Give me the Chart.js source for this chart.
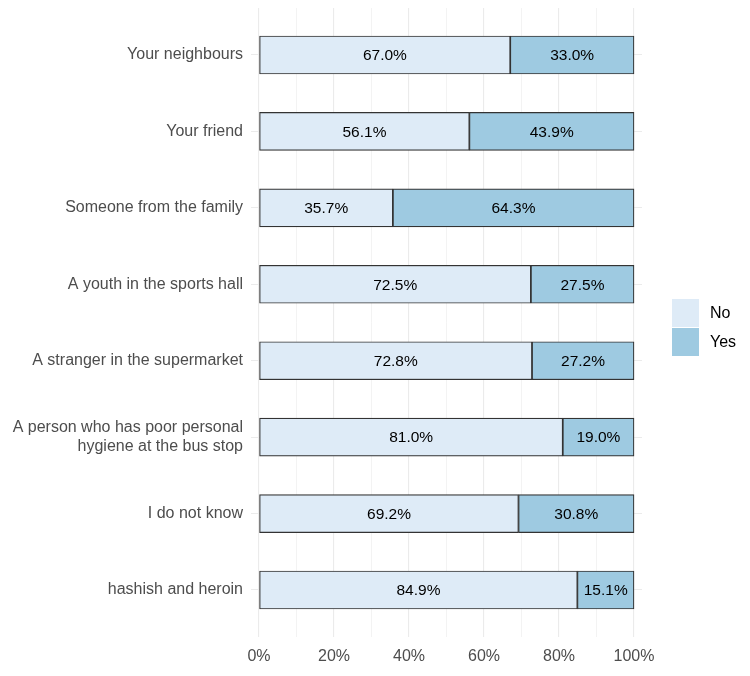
<!DOCTYPE html>
<html>
<head>
<meta charset="utf-8">
<script src="https://cdn.jsdelivr.net/npm/chart.js@4/dist/chart.umd.min.js"></script>
<style>
  body { margin: 0; background: #fff; }
  #wrap { position: relative; width: 750px; height: 676px; }
  #legend { position: absolute; left: 672px; top: 298px; font: 16px 'Liberation Sans', Arial, sans-serif; color: #000; }
  .key { display: flex; align-items: center; height: 29px; }
  .key span.sw { width: 27px; height: 28px; margin-right: 11px; }
</style>
</head>
<body>
<div id="wrap">
  <canvas id="c" width="750" height="676"></canvas>
  <div id="legend"></div>
</div>
<script>
const categories = [
  'Your neighbours',
  'Your friend',
  'Someone from the family',
  'A youth in the sports hall',
  'A stranger in the supermarket',
  ['A person who has poor personal', 'hygiene at the bus stop'],
  'I do not know',
  'hashish and heroin'
];
const noValues = [67.0, 56.1, 35.7, 72.5, 72.8, 81.0, 69.2, 84.9];
const yesValues = [33.0, 43.9, 64.3, 27.5, 27.2, 19.0, 30.8, 15.1];
const seriesNames = ['No', 'Yes'];
const seriesColors = ['#deebf7', '#9ecae1'];
const xTicks = [0, 10, 20, 30, 40, 50, 60, 70, 80, 90, 100];

const FONT = "'Liberation Sans', Arial, sans-serif";
const GRID = '#ebebeb';

// labels in the middle of each segment
const barLabels = {
  id: 'barLabels',
  afterDatasetsDraw(chart) {
    const ctx = chart.ctx;
    ctx.save();
    ctx.font = '15.5px ' + FONT;
    ctx.fillStyle = '#000';
    ctx.textAlign = 'center';
    ctx.textBaseline = 'middle';
    chart.data.datasets.forEach((ds, di) => {
      chart.getDatasetMeta(di).data.forEach((el, i) => {
        ctx.fillText(ds.data[i].x.toFixed(1) + '%', (el.x + el.base) / 2, el.y + 1);
      });
    });
    ctx.restore();
  }
};

new Chart(document.getElementById('c'), {
  type: 'bar',
  data: {
    datasets: [noValues, yesValues].map((vals, k) => ({
      label: seriesNames[k],
      data: vals.map((v, i) => ({ x: v, y: i })),
      backgroundColor: seriesColors[k],
      borderColor: '#333333',
      borderWidth: 1.2,
      borderSkipped: false,
      barThickness: 38
    }))
  },
  options: {
    indexAxis: 'y',
    responsive: false,
    animation: false,
    layout: { padding: { top: 8, right: 108, left: 0, bottom: 0 } },
    plugins: { legend: { display: false }, tooltip: { enabled: false } },
    scales: {
      x: {
        type: 'linear',
        stacked: true,
        offset: false,
        min: -2.13,
        max: 102.13,
        afterBuildTicks: s => { s.ticks = xTicks.map(v => ({ value: v })); },
        afterFit: s => { s.height = 39; s.paddingLeft = 0; s.paddingRight = 0; },
        border: { display: false },
        grid: {
          color: GRID,
          offset: false,
          drawTicks: false,
          lineWidth: c => (c.tick && c.tick.value % 20 === 0 ? 1.1 : 0.6)
        },
        ticks: {
          autoSkip: false,
          maxRotation: 0,
          padding: 10,
          color: '#4d4d4d',
          font: { family: FONT, size: 16 },
          callback: v => (v % 20 === 0 ? v + '%' : '')
        }
      },
      y: {
        type: 'linear',
        stacked: true,
        reverse: true,
        offset: false,
        min: -0.615,
        max: categories.length - 1 + 0.615,
        afterBuildTicks: s => { s.ticks = categories.map((_, i) => ({ value: i })); },
        afterFit: s => { s.width = 251; s.paddingTop = 0; s.paddingBottom = 0; },
        border: { display: false },
        grid: { color: GRID, offset: false, lineWidth: 1.1, drawTicks: false },
        ticks: {
          autoSkip: false,
          padding: 8,
          color: '#4d4d4d',
          font: { family: FONT, size: 16, lineHeight: 1.15 },
          callback: v => categories[v]
        }
      }
    }
  },
  plugins: [barLabels]
});

document.getElementById('legend').innerHTML = seriesNames.map((n, k) =>
  `<div class="key"><span class="sw" style="background:${seriesColors[k]}"></span>${n}</div>`).join('');
</script>
</body>
</html>
